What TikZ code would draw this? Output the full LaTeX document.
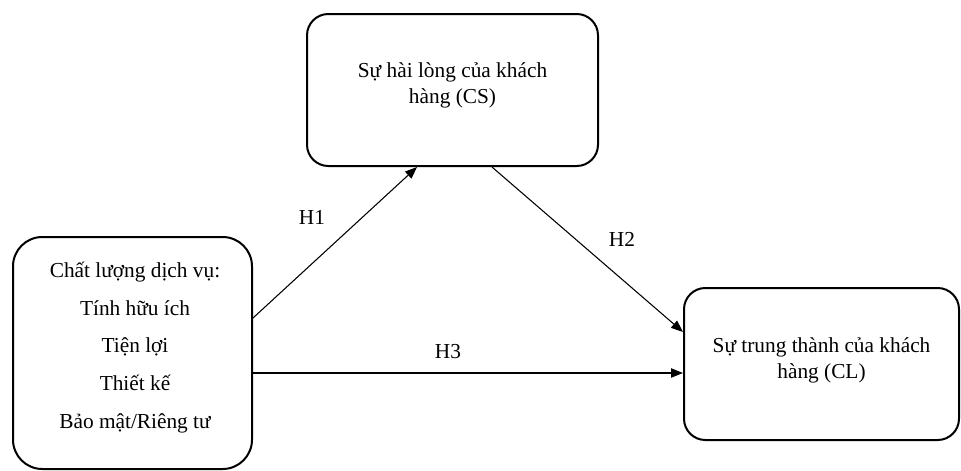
\documentclass[tikz,border=0pt]{standalone}
\usepackage{fontspec}
\setmainfont{Liberation Serif}
\usetikzlibrary{arrows.meta,calc}

\tikzset{
  construct/.style={draw, line width=1.5pt, inner sep=0pt},
  body/.style={align=center, font=\fontsize{16}{19.5}\selectfont},
  listbody/.style={align=center, font=\fontsize{16}{28.3}\selectfont},
  hyp/.style={font=\fontsize{16}{19}\selectfont},
  link/.style={line width=0.8pt, -{Triangle[length=9pt,width=7pt]}}
}

\begin{document}
\begin{tikzpicture}[x=0.75pt,y=-0.75pt]
  \useasboundingbox (0,0) rectangle (961,471);

  % the three constructs
  \node[construct, rounded corners=16pt, minimum width=291*0.75pt, minimum height=152*0.75pt]
    (cs) at (452.5,90) {};
  \node[construct, rounded corners=22pt, minimum width=239*0.75pt, minimum height=232*0.75pt]
    (sq) at (132.5,353) {};
  \node[construct, rounded corners=16pt, minimum width=275*0.75pt, minimum height=152*0.75pt]
    (cl) at (821.5,364) {};

  % their texts
  \node[body] (cstext) at (452.5,85) {Sự hài lòng của khách\\hàng (CS)};
  \node[listbody] (sqtext) at (135,347.5)
    {Chất lượng dịch vụ:\\Tính hữu ích\\Tiện lợi\\Thiết kế\\Bảo mật/Riêng tư};
  \node[body] (cltext) at (821.5,360) {Sự trung thành của khách\\hàng (CL)};

  % hypothesised paths
  \draw[link] ([yshift=26.25pt]sq.east) -- ([xshift=-26.6pt]cs.south);
  \draw[link] ([xshift=29.6pt]cs.south) -- ([yshift=24pt]cl.west);
  \draw[link] ([yshift=-15pt]sq.east) -- ([yshift=-6.75pt]cl.west);

  \node[hyp] (h1) at (312,217) {H1};
  \node[hyp] (h2) at (622,239) {H2};
  \node[hyp] (h3) at (448,352) {H3};
\end{tikzpicture}
\end{document}
